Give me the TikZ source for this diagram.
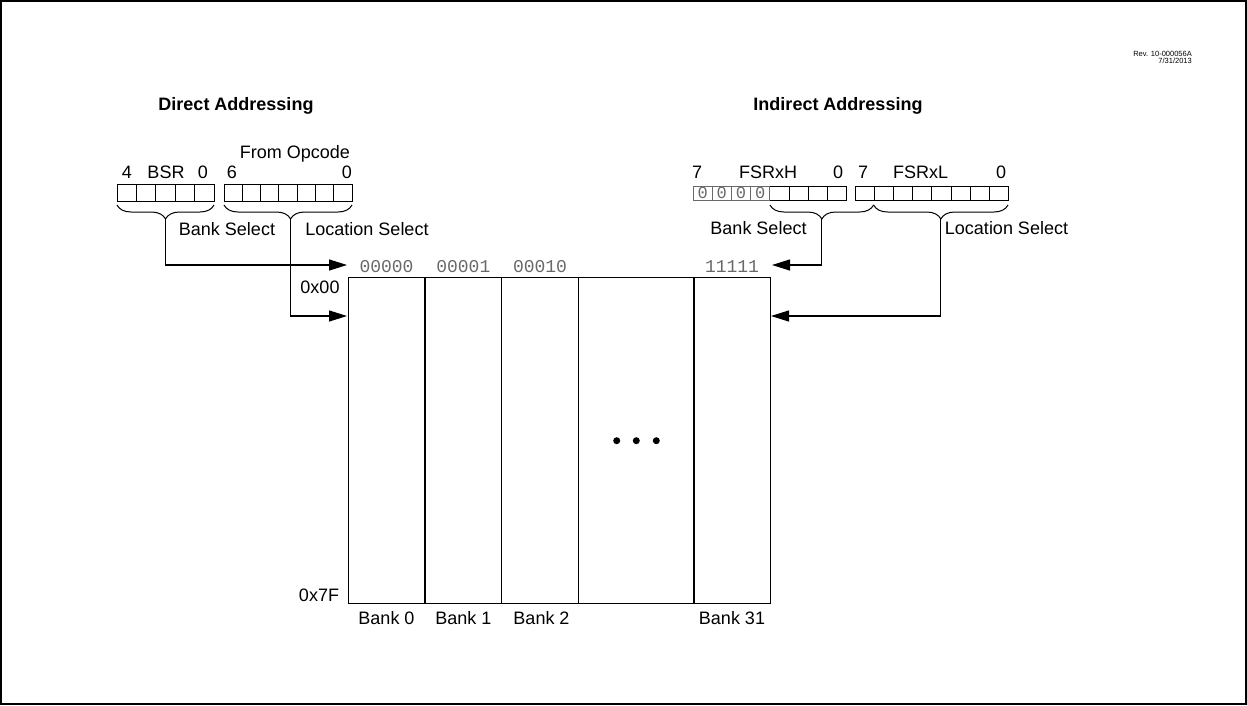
\documentclass[tikz,border=0pt]{standalone}
\usepackage{fontspec}
\setmainfont{Liberation Sans}
\setmonofont{Liberation Mono}
\usetikzlibrary{arrows.meta,decorations.pathreplacing,positioning}
\definecolor{bitgray}{RGB}{105,105,105}

\tikzset{
  lbl/.style={font=\fontsize{18}{20}\selectfont, inner sep=0pt, text depth=0pt},
  ttl/.style={lbl, font=\fontsize{18}{20}\selectfont\bfseries},
  addr/.style={font=\fontsize{18}{20}\selectfont\ttfamily, text=bitgray, inner sep=0pt},
  bitcell/.style={draw, line width=0.9pt, inner sep=0pt, minimum height=17pt},
  brc/.style={decorate, decoration={brace, amplitude=14pt}, line width=1pt},
  feed/.style={line width=1.2pt, -{Triangle[length=18pt,width=11pt]}},
}

\begin{document}
\begin{tikzpicture}[x=1pt,y=-1pt]
  \useasboundingbox (0,0) rectangle (1247,705);
  \draw[line width=2pt] (1,1) rectangle (1246,704);
  % revision stamp
  \node[anchor=east, inner sep=0pt, font=\fontsize{7.5}{8}\selectfont] (rev) at (1192,54) {Rev. 10-000056A};
  \node[anchor=east, inner sep=0pt, font=\fontsize{7.5}{8}\selectfont] (revdate) at (1192,61) {7/31/2013};

  \node[ttl] (dirttl) at (236,104) {Direct Addressing};
  \node[ttl] (indttl) at (838,104) {Indirect Addressing};

  % direct: BSR and opcode bits
  \foreach \i in {0,...,4}
    \node[bitcell, minimum width=19.4pt] (bsr\i) at ({126.7+19.4*\i},192.5) {};
  \foreach \i in {0,...,6}
    \node[bitcell, minimum width=18.3pt] (opc\i) at ({233.15+18.3*\i},192.5) {};
  \node[lbl] (opcttl) at (295,152) {From Opcode};
  \foreach \x/\t in {127/4,166/BSR,203/0,232/6,347/0}
    \node[lbl] at (\x,172) {\t};
  \draw[brc] (214,205) -- (117,205);
  \draw[brc, decoration={aspect=0.48}] (352,205) -- (224,205);
  \coordinate (bsrtip) at (165.5,219);
  \coordinate (opctip) at (290.5,219);
  \node[lbl] (dbank) at (227,229) {Bank Select};
  \node[lbl] (dloc) at (367,229) {Location Select};

  % indirect: FSRxH and FSRxL bits
  \foreach \i in {0,...,7}
    \node[bitcell, minimum width=19.2pt, minimum height=14pt] (fsrh\i) at ({702.6+19.2*\i},193) {};
  \foreach \i in {0,...,3}
    \node[bitcell, draw=bitgray, minimum width=19.2pt, minimum height=14pt,
          font=\fontsize{17}{17}\selectfont\ttfamily, text=bitgray] at ({702.6+19.2*\i},193) {0};
  \foreach \i in {0,...,7}
    \node[bitcell, minimum width=19.2pt, minimum height=14pt] (fsrl\i) at ({864.6+19.2*\i},193) {};
  \foreach \x/\t in {697/7,768/FSRxH,838/0,863/7,920.5/FSRxL,1001/0}
    \node[lbl] at (\x,172) {\t};
  \draw[brc] (873.6,205) -- (770,205);
  \draw[brc] (1008,205) -- (873.6,205);
  \coordinate (fsrhtip) at (821.8,219);
  \coordinate (fsrltip) at (940.8,219);
  \node[lbl] (ibank) at (758.5,228) {Bank Select};
  \node[lbl] (iloc) at (1006.5,228) {Location Select};

  % data memory banks
  \node[draw, line width=1.3pt, inner sep=0pt, minimum width=422pt, minimum height=326pt,
        anchor=north west] (mem) at (348,277) {};
  \foreach \x in {425,501.7,578.3,694}
    \draw[line width=1.3pt] (\x,277) -- (\x,603);
  \foreach \x/\t in {386.5/00000,463.3/00001,540/00010,732/11111}
    \node[addr] at (\x,267) {\t};
  \foreach \x/\t in {386.5/Bank 0,463.3/Bank 1,541.5/Bank 2,732/Bank 31}
    \node[lbl] at (\x,618) {\t};
  \node[lbl] (top) at (320,287) {0x00};
  \node[lbl] (bot) at (319,595) {0x7F};
  \foreach \x in {616.7,636.3,656.3}
    \fill (\x,440.7) circle (3.5);

  % selects into memory
  \coordinate (bankinL) at (347,265);
  \coordinate (locinL) at (347,316);
  \coordinate (bankinR) at (772,265);
  \coordinate (locinR) at (771,316);
  \draw[feed] (bsrtip) |- (bankinL);
  \draw[feed] (opctip) |- (locinL);
  \draw[feed] (fsrhtip) |- (bankinR);
  \draw[feed] (fsrltip) |- (locinR);
\end{tikzpicture}
\end{document}
